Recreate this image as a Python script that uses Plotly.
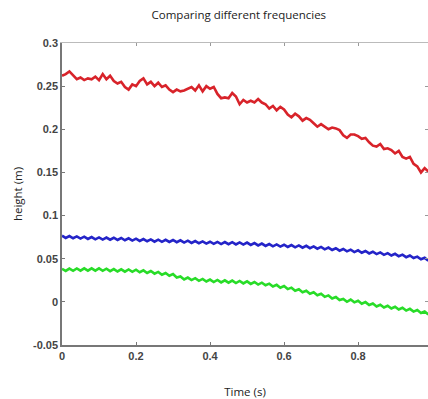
import plotly.graph_objects as go

time_s = [i / 100 for i in range(100)]

red_height = [
    0.262, 0.264, 0.267, 0.263, 0.258, 0.260, 0.257, 0.259, 0.258, 0.261,
    0.257, 0.264, 0.258, 0.262, 0.256, 0.253, 0.255, 0.249, 0.246, 0.252,
    0.250, 0.256, 0.259, 0.252, 0.255, 0.250, 0.254, 0.249, 0.251, 0.246,
    0.243, 0.246, 0.244, 0.245, 0.247, 0.249, 0.245, 0.251, 0.244, 0.250,
    0.247, 0.249, 0.241, 0.236, 0.237, 0.236, 0.242, 0.238, 0.229, 0.234,
    0.231, 0.233, 0.231, 0.235, 0.231, 0.229, 0.224, 0.227, 0.222, 0.226,
    0.223, 0.217, 0.214, 0.218, 0.215, 0.210, 0.213, 0.211, 0.207, 0.203,
    0.206, 0.203, 0.200, 0.202, 0.201, 0.199, 0.193, 0.190, 0.194, 0.194,
    0.192, 0.189, 0.190, 0.185, 0.181, 0.180, 0.183, 0.177, 0.178, 0.176,
    0.172, 0.175, 0.168, 0.166, 0.168, 0.160, 0.157, 0.150, 0.155, 0.151,
]

blue_height = [
    0.0767, 0.0741, 0.0763, 0.0737, 0.0759, 0.0733, 0.0755, 0.0729, 0.0751, 0.0725,
    0.0747, 0.0722, 0.0745, 0.0720, 0.0743, 0.0718, 0.0740, 0.0714, 0.0736, 0.0710,
    0.0732, 0.0706, 0.0728, 0.0702, 0.0724, 0.0698, 0.0721, 0.0696, 0.0719, 0.0694,
    0.0717, 0.0691, 0.0713, 0.0687, 0.0709, 0.0683, 0.0705, 0.0679, 0.0701, 0.0675,
    0.0697, 0.0672, 0.0695, 0.0670, 0.0693, 0.0668, 0.0691, 0.0666, 0.0689, 0.0664,
    0.0687, 0.0660, 0.0681, 0.0654, 0.0675, 0.0648, 0.0670, 0.0644, 0.0666, 0.0640,
    0.0662, 0.0636, 0.0658, 0.0632, 0.0654, 0.0628, 0.0649, 0.0622, 0.0643, 0.0616,
    0.0637, 0.0609, 0.0629, 0.0601, 0.0621, 0.0593, 0.0613, 0.0585, 0.0605, 0.0577,
    0.0597, 0.0569, 0.0589, 0.0561, 0.0581, 0.0553, 0.0573, 0.0545, 0.0565, 0.0537,
    0.0557, 0.0528, 0.0547, 0.0518, 0.0537, 0.0508, 0.0524, 0.0493, 0.0510, 0.0478,
]

green_height = [
    0.0383, 0.0358, 0.0385, 0.0360, 0.0387, 0.0362, 0.0388, 0.0362, 0.0388, 0.0362,
    0.0388, 0.0360, 0.0384, 0.0356, 0.0380, 0.0352, 0.0377, 0.0350, 0.0375, 0.0348,
    0.0373, 0.0343, 0.0365, 0.0335, 0.0357, 0.0327, 0.0347, 0.0315, 0.0335, 0.0303,
    0.0323, 0.0283, 0.0295, 0.0259, 0.0281, 0.0252, 0.0274, 0.0244, 0.0266, 0.0236,
    0.0258, 0.0230, 0.0254, 0.0226, 0.0250, 0.0222, 0.0246, 0.0218, 0.0242, 0.0214,
    0.0238, 0.0208, 0.0230, 0.0200, 0.0222, 0.0192, 0.0211, 0.0178, 0.0197, 0.0164,
    0.0183, 0.0148, 0.0165, 0.0130, 0.0147, 0.0112, 0.0129, 0.0094, 0.0111, 0.0076,
    0.0093, 0.0058, 0.0075, 0.0040, 0.0057, 0.0022, 0.0034, 0.0001, 0.0027, -0.0006,
    0.0013, -0.0021, -0.0003, -0.0037, -0.0019, -0.0053, -0.0033, -0.0065, -0.0045, -0.0077,
    -0.0057, -0.0089, -0.0069, -0.0101, -0.0081, -0.0113, -0.0095, -0.0129, -0.0111, -0.0145,
]

x_ticks = [0, 0.2, 0.4, 0.6, 0.8]
x_ticklabels = ["0", "0.2", "0.4", "0.6", "0.8"]
y_ticks = [-0.05, 0, 0.05, 0.1, 0.15, 0.2, 0.25, 0.3]
y_ticklabels = ["-0.05", "0", "0.05", "0.1", "0.15", "0.2", "0.25", "0.3"]

fig = go.Figure()
for ys, col in [(red_height, "#d8232a"), (blue_height, "#2424c8"), (green_height, "#28dc28")]:
    fig.add_trace(go.Scatter(x=time_s, y=ys, mode="lines",
                             line=dict(color=col, width=2.6), showlegend=False))

tickfont = dict(family="Liberation Sans, Arial", size=11, color="#444", weight="bold")
fig.update_layout(
    width=428, height=399,
    margin=dict(l=62, r=0, t=43, b=54),
    paper_bgcolor="white", plot_bgcolor="white",
    title=dict(text="Comparing different frequencies", x=0.558, xanchor="center",
               y=1 - 15 / 399, yanchor="middle",
               font=dict(family="Open Sans", size=11.5, color="#222")),
    xaxis=dict(range=[0, 0.989], tickvals=x_ticks, ticktext=x_ticklabels,
               showgrid=False, zeroline=False, showline=True, linecolor="#777",
               linewidth=1.5, ticks="inside", ticklen=3, tickcolor="#777",
               tickfont=tickfont,
               title=dict(text="Time (s)", standoff=28,
                          font=dict(family="Open Sans", size=11.5, color="#222"))),
    yaxis=dict(range=[-0.05, 0.3], tickvals=y_ticks, ticktext=y_ticklabels,
               showgrid=False, zeroline=False, showline=True, linecolor="#777",
               linewidth=1.5, ticks="inside", ticklen=3, tickcolor="#777",
               tickfont=tickfont,
               title=dict(text="height (m)", standoff=8,
                          font=dict(family="Open Sans", size=11.5, color="#222"))),
    xaxis2=dict(overlaying="x", matches="x", side="top", showticklabels=False,
                tickvals=x_ticks, showgrid=False, zeroline=False, showline=True,
                linecolor="#bbb", linewidth=1, ticks="inside", ticklen=3,
                tickcolor="#999"),
    yaxis2=dict(overlaying="y", matches="y", side="right", showticklabels=False,
                tickvals=y_ticks, showgrid=False, zeroline=False, showline=True,
                linecolor="#ccc", linewidth=1, ticks="inside", ticklen=3,
                tickcolor="#999"),
)
fig.add_trace(go.Scatter(x=[], y=[], xaxis="x2", yaxis="y2", showlegend=False))

fig.write_html("out.html")
